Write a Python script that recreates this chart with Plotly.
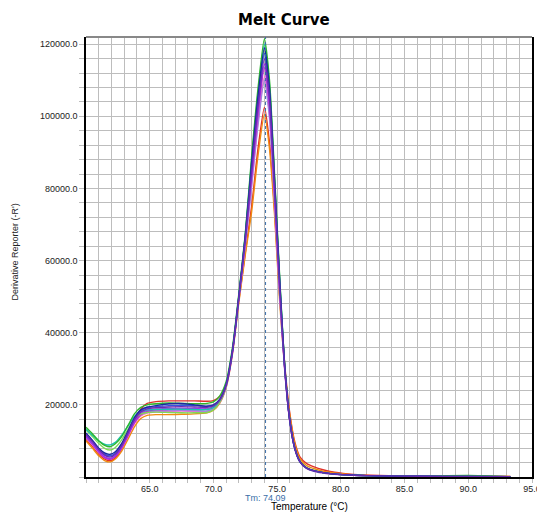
import plotly.graph_objects as go

# Temperature grid (°C)
temps = [60.0, 60.5, 61.0, 61.5, 61.9, 62.3, 62.8, 63.3, 63.8, 64.3, 64.8, 65.5, 66.5, 67.5, 68.5,
         69.5, 70.0, 70.5, 71.0, 71.5, 72.0, 72.5, 73.0, 73.5, 74.0, 74.4, 74.8, 75.2, 75.6, 76.0,
         76.4, 76.8, 77.3, 77.9, 78.6, 79.5, 81.0, 83.0, 86.0, 90.0, 93.3]

# Derivative reporter values per well
well_red = [10500, 8500, 6300, 4900, 4500, 5300, 7800, 11600, 15700, 18800, 20400, 20900, 21100, 21100, 21100,
            21000, 21200, 22300, 25800, 35000, 49000, 62200, 75100, 91100, 102500, 92800, 74000, 50000, 31000, 17500,
            9500, 5500, 3800, 2800, 2000, 1300, 700, 400, 250, 200, 150]
well_orange = [10000, 8000, 5900, 4500, 4200, 5000, 7200, 10500, 13900, 16200, 17100, 17300, 17300, 17400, 17500,
               17800, 18500, 20500, 24800, 34200, 48500, 61600, 73600, 89200, 100500, 91000, 72500, 48500, 30000, 17000,
               9000, 5000, 3200, 2300, 1600, 1100, 600, 350, 220, 180, 120]
well_pink = [10800, 8900, 6800, 5300, 5000, 5800, 8000, 11300, 14700, 16900, 17700, 18000, 18200, 18300, 18200,
             18200, 18800, 20700, 25000, 34600, 49600, 64600, 81300, 98600, 111000, 100500, 76600, 50700, 29400, 15200,
             7700, 4100, 2400, 1600, 1100, 750, 450, 280, 200, 150, 100]
well_lavender = [11000, 9200, 7300, 6000, 5800, 6500, 8700, 12000, 15300, 17300, 18000, 18300, 18400, 18500, 18400,
                 18300, 18900, 20800, 25100, 34600, 49500, 64300, 80600, 97600, 110000, 99500, 75800, 50200, 29200, 15100,
                 7600, 4100, 2400, 1600, 1100, 750, 450, 280, 200, 150, 100]
well_magenta = [11400, 9300, 7000, 5300, 4900, 5700, 8000, 11500, 15100, 17300, 18200, 18600, 18800, 18900, 18900,
                18800, 19300, 21000, 25200, 34700, 49700, 65300, 83100, 100700, 113500, 102700, 78200, 51800, 29700, 15300,
                7700, 4200, 2500, 1700, 1200, 800, 500, 300, 200, 150, 100]
well_violet = [11200, 9200, 7100, 5500, 5100, 5900, 8300, 11800, 15400, 17600, 18500, 18800, 19000, 19100, 19000,
               18900, 19400, 21100, 25300, 34800, 49800, 65600, 83900, 101700, 114500, 103600, 79000, 52300, 29800, 15400,
               7700, 4200, 2500, 1700, 1200, 800, 500, 300, 200, 150, 100]
well_lightgreen = [13000, 11200, 9300, 7900, 7500, 8200, 10300, 13300, 16200, 17500, 17900, 18000, 17900, 17800, 17800,
                   17900, 18600, 20800, 25300, 35200, 50300, 66700, 86900, 105300, 118500, 107300, 81800, 54200, 30300, 15500,
                   7800, 4200, 2500, 1700, 1200, 800, 500, 300, 200, 150, 100]
well_teal = [13200, 11600, 10000, 9000, 8900, 9600, 11600, 14200, 16800, 18200, 18600, 18700, 18800, 18800, 18700,
             18700, 19300, 21300, 25800, 35500, 50500, 67100, 87900, 106500, 120000, 108600, 82700, 54800, 30500, 15600,
             7800, 4200, 2500, 1700, 1200, 800, 500, 300, 200, 150, 100]
well_green = [13800, 12000, 10000, 8700, 8400, 9200, 11200, 14300, 17500, 19300, 20000, 20300, 20500, 20400, 20300,
              20400, 20800, 22500, 26500, 36000, 51000, 67500, 89000, 107800, 121500, 110000, 83800, 55500, 30700, 15700,
              7900, 4300, 2600, 1800, 1200, 800, 500, 300, 250, 400, 100]
well_blue = [12000, 10000, 7900, 6300, 5900, 6600, 9000, 12500, 16100, 18300, 19200, 19500, 19800, 19900, 19800,
             19600, 20000, 21600, 25700, 35100, 50100, 66400, 86100, 104300, 117500, 106400, 81000, 53700, 30200, 15500,
             7800, 4200, 2500, 1700, 1200, 800, 500, 300, 200, 150, 100]
well_darkblue = [12200, 10200, 8000, 6600, 6300, 7000, 9300, 12800, 16400, 18600, 19400, 19800, 20300, 20400, 20000,
                 19600, 19900, 21500, 25600, 35200, 50200, 66900, 87200, 105700, 119000, 107700, 82100, 54400, 30400, 15500,
                 7800, 4200, 2500, 1700, 1200, 800, 500, 300, 200, 150, 100]
well_purple = [11800, 9800, 7600, 6000, 5500, 6300, 8700, 12300, 15900, 18000, 18900, 19200, 19400, 19500, 19400,
               19300, 19700, 21300, 25500, 35000, 50000, 66000, 85000, 103000, 116000, 105000, 80000, 53000, 30000, 15500,
               7800, 4200, 2500, 1700, 1200, 800, 500, 300, 200, 150, 100]

series = [
    ("Red", well_red, "#e0302a"),
    ("Orange", well_orange, "#f08a10"),
    ("Pink", well_pink, "#f075c8"),
    ("Lavender", well_lavender, "#a080e0"),
    ("Magenta", well_magenta, "#c02ac0"),
    ("Violet", well_violet, "#9933ee"),
    ("Light green", well_lightgreen, "#7ed957"),
    ("Teal", well_teal, "#1fc0b0"),
    ("Green", well_green, "#2db82d"),
    ("Blue", well_blue, "#3355dd"),
    ("Dark blue", well_darkblue, "#1a2aa0"),
    ("Purple", well_purple, "#6a2cb0"),
]

tm_value = 74.09
y_tick_vals = [20000, 40000, 60000, 80000, 100000, 120000]
y_tick_text = ["20000.0", "40000.0", "60000.0", "80000.0", "100000.0", "120000.0"]
x_tick_vals = [65, 70, 75, 80, 85, 90, 95]
x_tick_text = ["65.0", "70.0", "75.0", "80.0", "85.0", "90.0", "95.0"]

fig = go.Figure()
for name, vals, col in series:
    fig.add_trace(go.Scatter(x=temps, y=vals, mode="lines", name=name,
                             line=dict(color=col, width=1.4, shape="spline", smoothing=0.6),
                             showlegend=False))

grid_col = "#bdbdbd"
fig.update_layout(
    width=537, height=512,
    margin=dict(l=86, r=5, t=37, b=35, autoexpand=False),
    paper_bgcolor="white", plot_bgcolor="white",
    font=dict(family="Liberation Sans, Arial, sans-serif", size=9, color="#222222"),
    xaxis=dict(range=[60, 95], tickvals=x_tick_vals, ticktext=x_tick_text, automargin=False,
               showgrid=True, gridcolor=grid_col, gridwidth=1,
               minor=dict(dtick=1, tick0=60, showgrid=True, gridcolor=grid_col, gridwidth=1,
                          ticks="outside", ticklen=4, tickcolor=grid_col),
               ticks="outside", ticklen=4, tickcolor=grid_col, ticklabeloverflow="allow",
               ticklabelstandoff=-2,
               showline=True, linecolor="black", linewidth=1.5,
               zeroline=False, tickfont=dict(size=9, color="#222222")),
    yaxis=dict(range=[0, 122000], tickvals=y_tick_vals, ticktext=y_tick_text, automargin=False,
               showgrid=True, gridcolor=grid_col, gridwidth=1,
               minor=dict(dtick=4000, tick0=0, showgrid=True, gridcolor=grid_col, gridwidth=1,
                          ticks="outside", ticklen=5, tickcolor=grid_col),
               ticks="outside", ticklen=5, tickcolor=grid_col,
               showline=True, linecolor="black", linewidth=1.5, mirror=True,
               zeroline=False, tickfont=dict(size=9, color="#222222")),
    shapes=[
        dict(type="line", xref="paper", yref="paper", x0=0, x1=1, y0=1, y1=1,
             line=dict(color="#888888", width=2)),
        dict(type="line", xref="x", yref="paper", x0=tm_value, x1=tm_value, y0=0, y1=1,
             line=dict(color="#3b6ea8", width=1, dash="dot")),
    ],
    annotations=[
        dict(text="<b>Melt Curve</b>", xref="paper", yref="paper", x=0.443, y=1.0,
             yshift=17, xanchor="center", yanchor="middle", showarrow=False,
             font=dict(family="DejaVu Sans, sans-serif", size=15, color="black")),
        dict(text="Temperature (°C)", xref="paper", yref="paper", x=0.5, y=0, yshift=-29,
             xanchor="center", yanchor="middle", showarrow=False,
             font=dict(size=10, color="black")),
        dict(text="Tm: 74.09", xref="x", yref="paper", x=tm_value, y=0, yshift=-21,
             xanchor="center", yanchor="middle", showarrow=False,
             font=dict(size=9, color="#3b6ea8")),
        dict(text="Derivative Reporter (-R')", xref="paper", yref="paper", x=0, xshift=-71,
             y=0.51, xanchor="center", yanchor="middle", textangle=-90, showarrow=False,
             font=dict(size=9, color="#222222")),
    ],
)

# remove the default page margin so the 537x512 figure fills the window exactly
fig.write_html("out.html", config={"displayModeBar": False},
               post_script="document.body.style.margin='0';document.body.style.overflow='hidden';")
